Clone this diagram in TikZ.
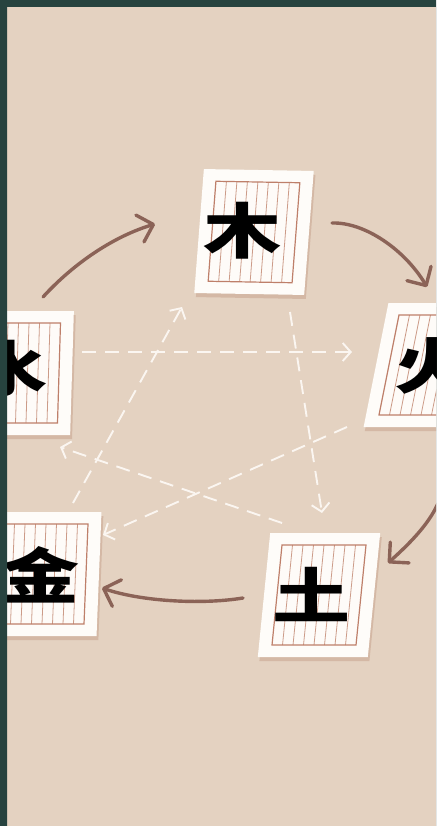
\documentclass[tikz,border=0pt]{standalone}
\usepackage{fontspec}
\newfontfamily\cjk{Noto Sans CJK SC}
\usetikzlibrary{arrows.meta}
\definecolor{bgbeige}{HTML}{E4D2C1}
\definecolor{framecol}{HTML}{27433F}
\definecolor{brownarrow}{HTML}{8B6357}
\definecolor{dashwhite}{HTML}{FBF6F1}
\definecolor{cardwhite}{HTML}{FEFCF9}
\definecolor{cardshadow}{HTML}{D4B8A5}
\definecolor{paperline}{HTML}{BE7F6A}
\definecolor{paperrule}{HTML}{CC9B88}
\definecolor{paperfill}{HTML}{FEFBF8}
\tikzset{
  card/.pic={
    \fill[cardshadow] (-53,-58) rectangle (57,66);
    \fill[cardwhite] (-55,-62) rectangle (55,62);
    \fill[paperfill] (-42,-50) rectangle (42,50);
    \foreach \i in {1,...,7} \draw[paperrule, line width=0.8pt] (-42+10.5*\i,-50) -- (-42+10.5*\i,50);
    \draw[paperline, line width=1.2pt] (-42,-50) rectangle (42,50);
  },
  glyph/.style={font=\cjk\bfseries\fontsize{60}{60}\selectfont, text=black, inner sep=0pt, xscale=1.3},
  gen/.style={draw=brownarrow, line width=3.4pt, line cap=round, -{Straight Barb[length=14pt,width=28pt,round]}},
  ctrl/.style={draw=dashwhite, line width=1.9pt, dash pattern=on 14pt off 9pt, -{Straight Barb[length=8pt,width=18pt]}}
}
\begin{document}
\begin{tikzpicture}[x=1pt,y=-1pt]
\path[use as bounding box] (0,0) rectangle (436,826);
\clip (0,0) rectangle (436,826);
\fill[bgbeige] (0,0) rectangle (436,826);

% control cycle (dashed)
\coordinate (c1s) at (82,352);  \coordinate (c1e) at (352,352);
\coordinate (c2s) at (290,312); \coordinate (c2e) at (322,513);
\coordinate (c3s) at (282,523); \coordinate (c3e) at (60,447);
\coordinate (c4s) at (347,427); \coordinate (c4e) at (103,535);
\coordinate (c5s) at (73,503);  \coordinate (c5e) at (182,307);
\draw[ctrl] (c1s) -- (c1e);
\draw[ctrl] (c2s) -- (c2e);
\draw[ctrl] (c3s) -- (c3e);
\draw[ctrl] (c4s) -- (c4e);
\draw[ctrl] (c5s) -- (c5e);

% generating cycle (brown)
\coordinate (g1s) at (43,297);  \coordinate (g1e) at (155,224);
\coordinate (g2s) at (332,223); \coordinate (g2e) at (427,287);
\coordinate (g3s) at (440,498); \coordinate (g3e) at (388,563);
\coordinate (g4s) at (243,598); \coordinate (g4e) at (102,588);
\draw[gen] (g1s) .. controls (75,262) and (115,236) .. (g1e);
\draw[gen] (g2s) .. controls (365,222) and (405,250) .. (g2e);
\draw[gen] (g3s) .. controls (432,522) and (408,545) .. (g3e);
\draw[gen] (g4s) .. controls (200,605) and (140,601) .. (g4e);

% cards
\pic[xslant=0.06, rotate=-1] at (254,232) {card};
\pic[xslant=0.03] at (17,373) {card};
\pic[xslant=0.2] at (431,365) {card};
\pic[xslant=0.04] at (44,574) {card};
\pic[xslant=0.1] at (319,595) {card};

% characters
\node[glyph] (mu) at (242,231) {木};
\node[glyph] (shui) at (9,369) {水};
\node[glyph] (huo) at (433,366) {火};
\node[glyph] (jin) at (41,575) {金};
\node[glyph] (tu) at (311,594) {土};

% frame
\fill[framecol, even odd rule] (0,0) rectangle (436,826) (7,7) rectangle (440,830);
\end{tikzpicture}
\end{document}
